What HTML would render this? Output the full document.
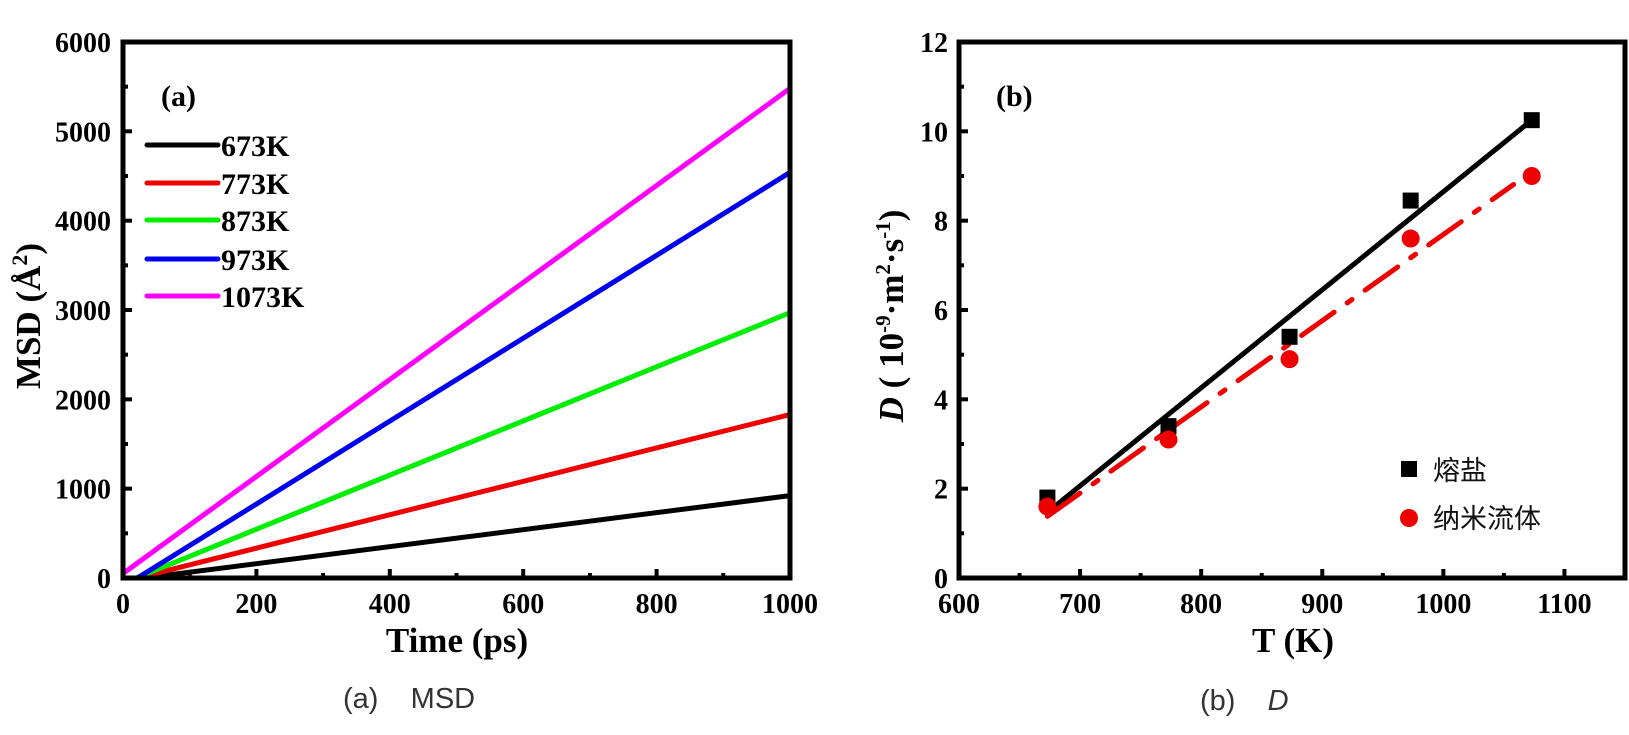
<!DOCTYPE html>
<html><head><meta charset="utf-8"><style>
body{margin:0;background:#fff;}
svg{display:block;}
.tk{font-family:"Liberation Serif",serif;font-weight:bold;font-size:28px;fill:#000;}
.ttl{font-family:"Liberation Serif",serif;font-weight:bold;font-size:35px;fill:#000;}
.lg{font-family:"Liberation Serif",serif;font-weight:bold;font-size:30px;fill:#000;}
.cap{font-family:"Liberation Sans",sans-serif;font-size:29px;fill:#333;}
.cn{font-family:"Liberation Sans","Noto Sans CJK SC",sans-serif;font-size:27px;fill:#111;}
</style></head><body>
<svg id="svg" width="1629" height="735" viewBox="0 0 1629 735" xmlns="http://www.w3.org/2000/svg">
<defs>
<clipPath id="clipA"><rect x="123" y="42" width="667" height="536"/></clipPath>
</defs>
<g id="pa"></g>
<g id="pb"></g>
<text class="cap" x="343" y="708" xml:space="preserve">(a)    MSD</text>
<text class="cap" x="1200" y="710" xml:space="preserve">(b)    <tspan font-style="italic">D</tspan></text>
</svg>
<script>
// Panel (a) data
const msdLabels = ["673K","773K","873K","973K","1073K"];
const msdColors = ["#000000","#ee0000","#00ee00","#0000ee","#ff00ff"];
const msdStart = [-30,-40,-60,-100,50];
const msdEnd = [922,1830,2970,4540,5480];
const msdTimes = [0,1000];
const aXTicks = [0,200,400,600,800,1000];
const aYTicks = [0,1000,2000,3000,4000,5000,6000];
// Panel (b) data
const bTemps = [673,773,873,973,1073];
const saltD = [1.8,3.4,5.4,8.45,10.25];
const nanoD = [1.6,3.1,4.9,7.6,9.0];
const bXTicks = [600,700,800,900,1000,1100];
const bYTicks = [0,2,4,6,8,10,12];

const NS="http://www.w3.org/2000/svg";
function mk(tag,attrs,parent,txt){const e=document.createElementNS(NS,tag);for(const k in attrs)e.setAttribute(k,attrs[k]);if(txt!==undefined)e.textContent=txt;parent.appendChild(e);return e;}

// ---- Panel A
const A={l:123,r:790,t:42,b:578};
const ax=v=>A.l+(v-0)/(1000-0)*(A.r-A.l);
const ay=v=>A.b-(v-0)/(6000-0)*(A.b-A.t);
const pa=document.getElementById('pa');
const gA=mk('g',{'clip-path':'url(#clipA)'},pa);
for(let i=0;i<msdLabels.length;i++){
  const ln=mk('line',{x1:ax(msdTimes[0]),y1:ay(msdStart[i]),x2:ax(msdTimes[1]),y2:ay(msdEnd[i]),stroke:msdColors[i],'stroke-width':5},gA);
  
  
}
for(let v=0;v<=1000;v+=100){const L=(v%200===0)?9:5;const t=mk('line',{x1:ax(v),x2:ax(v),y1:A.b,y2:A.b-L,stroke:'#000','stroke-width':4},pa);}
for(let v=0;v<=6000;v+=500){const L=(v%1000===0)?9:5;const t=mk('line',{x1:A.l,x2:A.l+L,y1:ay(v),y2:ay(v),stroke:'#000','stroke-width':4},pa);}
aXTicks.forEach(v=>{const t=mk('text',{x:ax(v),y:613,'text-anchor':'middle',class:'tk'},pa,String(v));});
aYTicks.forEach(v=>{const t=mk('text',{x:111,y:ay(v)+10,'text-anchor':'end',class:'tk'},pa,String(v));});
const fa=mk('rect',{x:A.l,y:A.t,width:A.r-A.l,height:A.b-A.t,fill:'none',stroke:'#000','stroke-width':5},pa);

const xta=mk('text',{x:457,y:652,'text-anchor':'middle',class:'ttl'},pa,'Time (ps)');

const yta=mk('text',{x:0,y:0,'text-anchor':'middle',class:'ttl',transform:'translate(40,316) rotate(-90)'},pa);

yta.innerHTML='MSD (Å<tspan dy="-13" font-size="22">2</tspan><tspan dy="13">)</tspan>';
const pla=mk('text',{x:161,y:106,class:'lg','font-size':'34'},pa,'(a)');

const legY=[145,183,220,259,296];
msdLabels.forEach((lab,i)=>{
  const g=mk('g',{},pa);
  
  
  mk('line',{x1:147,x2:218,y1:legY[i],y2:legY[i],stroke:msdColors[i],'stroke-width':5,'stroke-linecap':'round'},g);
  mk('text',{x:221,y:legY[i]+11,class:'lg'},g,lab);
});

// ---- Panel B
const B={l:959,r:1625,t:42,b:578};
const bx=v=>B.l+(v-600)/(1150-600)*(B.r-B.l);
const by=v=>B.b-(v-0)/(12-0)*(B.b-B.t);
const pb=document.getElementById('pb');
function fit(xs,ys){const n=xs.length;const mx=xs.reduce((a,b)=>a+b)/n,my=ys.reduce((a,b)=>a+b)/n;let sxy=0,sxx=0;for(let i=0;i<n;i++){sxy+=(xs[i]-mx)*(ys[i]-my);sxx+=(xs[i]-mx)**2;}const k=sxy/sxx;return x=>my+k*(x-mx);}
const fs=fit(bTemps,saltD), fn=fit(bTemps,nanoD);
const x0=bTemps[0], x1=bTemps[bTemps.length-1];
const l1=mk('line',{x1:bx(x0),y1:by(fs(x0)),x2:bx(x1),y2:by(fs(x1)),stroke:'#000','stroke-width':5},pb);

const l2=mk('line',{x1:bx(x0),y1:by(fn(x0)),x2:bx(x1-15),y2:by(fn(x1-15)),stroke:'#ee0000','stroke-width':5,'stroke-dasharray':'40 16 6 16','stroke-linecap':'round'},pb);

bTemps.forEach((t,i)=>{
  const s=mk('rect',{x:bx(t)-8,y:by(saltD[i])-8,width:16,height:16,fill:'#000'},pb);
  
  const c=mk('circle',{cx:bx(t),cy:by(nanoD[i]),r:9,fill:'#ee0000'},pb);
  
});
for(let v=600;v<=1150;v+=50){const L=(v%100===0)?9:5;const t=mk('line',{x1:bx(v),x2:bx(v),y1:B.b,y2:B.b-L,stroke:'#000','stroke-width':4},pb);}
for(let v=0;v<=12;v+=1){const L=(v%2===0)?9:5;const t=mk('line',{x1:B.l,x2:B.l+L,y1:by(v),y2:by(v),stroke:'#000','stroke-width':4},pb);}
bXTicks.forEach(v=>{const t=mk('text',{x:bx(v),y:613,'text-anchor':'middle',class:'tk'},pb,String(v));});
bYTicks.forEach(v=>{const t=mk('text',{x:948,y:by(v)+10,'text-anchor':'end',class:'tk'},pb,String(v));});
const fb=mk('rect',{x:B.l,y:B.t,width:B.r-B.l,height:B.b-B.t,fill:'none',stroke:'#000','stroke-width':5},pb);

const xtb=mk('text',{x:1293,y:652,'text-anchor':'middle',class:'ttl'},pb,'T (K)');

const ytb=mk('text',{x:0,y:0,'text-anchor':'middle',class:'ttl','font-size':'34',transform:'translate(903,316) rotate(-90)'},pb);

ytb.innerHTML='<tspan font-style="italic">D</tspan> ( 10<tspan dy="-13" font-size="21">-9</tspan><tspan dy="13">·m</tspan><tspan dy="-13" font-size="21">2</tspan><tspan dy="13">·s</tspan><tspan dy="-13" font-size="21">-1</tspan><tspan dy="13">)</tspan>';
const plb=mk('text',{x:996,y:106,class:'lg','font-size':'34'},pb,'(b)');

const lg1=mk('g',{},pb);


mk('rect',{x:1401,y:461,width:16,height:16,fill:'#000'},lg1);
mk('text',{x:1433,y:480,class:'cn'},lg1,'熔盐');
const lg2=mk('g',{},pb);


mk('circle',{cx:1409,cy:518,r:9,fill:'#ee0000'},lg2);
mk('text',{x:1433,y:528,class:'cn'},lg2,'纳米流体');
</script>
</body></html>
